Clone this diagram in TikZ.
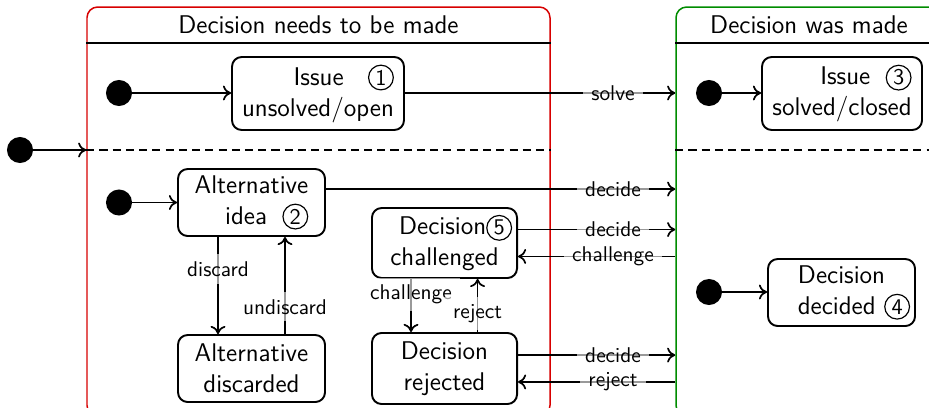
\documentclass[tikz,border=0pt]{standalone}
\usepackage{fontspec}
\usetikzlibrary{fit,arrows.meta}
\definecolor{cred}{RGB}{215,0,0}
\definecolor{cgreen}{RGB}{0,140,0}
\newcommand{\cnum}[1]{\tikz[baseline=(cn.base)]\node[circle, draw, line width=0.55pt, inner sep=0pt, minimum size=11.6pt, font=\sffamily\fontsize{10.5}{10.5}\selectfont] (cn) {#1};}
\begin{document}
\begin{tikzpicture}[x=0.46875pt,y=-0.46875pt,
  font=\sffamily\fontsize{12}{14.5}\selectfont,
  stbox/.style={draw, rounded corners=4.5pt, line width=0.9pt, inner sep=2.3pt},
  initdot/.style={circle, fill=black, minimum size=12.2pt, inner sep=0pt},
  cont/.style={draw, rounded corners=5pt, line width=0.7pt, inner sep=0pt},
  lbl/.style={font=\sffamily\fontsize{10}{12}\selectfont, fill=white, fill opacity=0.6, text opacity=1, inner xsep=4pt, inner ysep=3.3pt},
  arr/.style={-{To[length=3.8pt,width=7pt]}, line width=0.8pt},
  sepline/.style={line width=0.8pt},
  dashline/.style={line width=0.8pt, dash pattern=on 3.8pt off 2.4pt}]
\useasboundingbox (0,0) rectangle (929,407);
\clip (0,0) rectangle (929,407);
% containers
\node[cont, draw=cred, fit={(87,7) (550,416)}] (red) {};
\node[cont, draw=cgreen, fit={(676,7) (942,416)}] (green) {};
\node (h1) at (318.5,25) {Decision needs to be made};
\node (h2) at (809,25) {Decision was made};
\coordinate (hl) at (0,43);
\coordinate (dl) at (0,150);
\coordinate (mc) at (613,0);
\draw[sepline] (hl -| red.west) -- (hl -| red.east);
\draw[sepline] (hl -| green.west) -- (hl -| green.east);
\draw[dashline] (dl -| red.west) -- (dl -| red.east);
\draw[dashline] (dl -| green.west) -- (dl -| green.east);
% states
\node[stbox, minimum width=80.6pt, minimum height=34.2pt, align=right] (s1) at (318,93.5) {Issue\hspace{0.95em}\cnum{1}\\unsolved/open};
\node[stbox, minimum width=75pt, minimum height=34.2pt, align=right] (s3) at (842,93.5) {Issue\hspace{0.6em}\cnum{3}\\solved/closed};
\node[stbox, minimum width=68.9pt, minimum height=31.4pt, align=right] (s2) at (251.5,202.5) {Alternative\\idea\hspace{0.6em}\cnum{2}};
\node[stbox, minimum width=68.9pt, minimum height=31.4pt, align=center] (ad) at (251.5,368.5) {Alternative\\discarded};
\node[stbox, text width=63.4pt, minimum height=32.8pt, align=center] (s5) at (444.5,243) {\makebox[\hsize][r]{Decision\cnum{5}}\\challenged};
\node[stbox, minimum width=68pt, minimum height=33.3pt, align=center] (dr) at (444.5,368.5) {Decision\\rejected};
\node[stbox, text width=64.3pt, minimum height=31.4pt, align=center] (s4) at (841.5,292.5) {Decision\\\makebox[\hsize][r]{decided \cnum{4}}};
% initial dots
\node[initdot] (d0) at (20,150) {};
\node[initdot] (d1) at (119,93) {};
\node[initdot] (d2) at (119,202.5) {};
\node[initdot] (d3) at (709,93) {};
\node[initdot] (d4) at (709,292) {};
% helper coordinates
\coordinate (a2) at ([yshift=6.3pt]s2.east);
\coordinate (a5) at ([yshift=6.3pt]s5.east);
\coordinate (b5) at ([yshift=-6.3pt]s5.east);
\coordinate (ar) at ([yshift=6.3pt]dr.east);
\coordinate (br) at ([yshift=-6.3pt]dr.east);
\coordinate (v1) at ([xshift=-15.7pt]s2.south);
\coordinate (v2) at ([xshift=15.7pt]ad.north);
\coordinate (v3) at ([xshift=-15.7pt]s5.south);
\coordinate (v4) at ([xshift=15.5pt]dr.north);
% connectors
\draw[arr] (d0) -- (d0 -| red.west);
\draw[arr] (d1) -- (d1 -| s1.west);
\draw[arr] (d2) -- (d2 -| s2.west);
\draw[arr] (d3) -- (d3 -| s3.west);
\draw[arr] (d4) -- (d4 -| s4.west);
\draw[arr] (d1 -| s1.east) -- (d1 -| mc) node[lbl]{solve} -- (d1 -| green.west);
\draw[arr] (a2) -- (a2 -| mc) node[lbl]{decide} -- (a2 -| green.west);
\draw[arr] (a5) -- (a5 -| mc) node[lbl]{decide} -- (a5 -| green.west);
\draw[arr] (b5 -| green.west) -- (b5 -| mc) node[lbl]{challenge} -- (b5);
\draw[arr] (ar) -- (ar -| mc) node[lbl]{decide} -- (ar -| green.west);
\draw[arr] (br -| green.west) -- (br -| mc) node[lbl]{reject} -- (br);
\draw[arr] (v1) -- node[lbl, pos=0.33]{discard} (v1 |- ad.north);
\draw[arr] (v2) -- node[lbl, pos=0.28]{undiscard} (v2 |- s2.south);
\draw[arr] (v3) -- node[lbl, pos=0.29]{challenge} (v3 |- dr.north);
\draw[arr] (v4) -- node[lbl, pos=0.35]{reject} (v4 |- s5.south);
\end{tikzpicture}
\end{document}
